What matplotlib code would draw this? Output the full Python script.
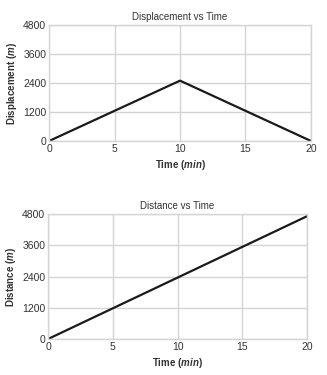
import matplotlib
matplotlib.use("Agg")
import matplotlib.pyplot as plt

# Time in minutes
disp_time = [0, 10, 20]
displacement = [0, 2500, 0]
dist_time = [0, 20]
distance = [0, 4720]

xticks = [0, 5, 10, 15, 20]
yticks = [0, 1200, 2400, 3600, 4800]

plt.rcParams['font.family'] = ['Liberation Sans', 'DejaVu Sans']
plt.rcParams['font.size'] = 7
# bold italic units inside the axis labels
plt.rcParams['mathtext.fontset'] = 'custom'
plt.rcParams['mathtext.it'] = 'Liberation Sans:italic:bold'
plt.rcParams['mathtext.rm'] = 'Liberation Sans:bold'
grid_col = '#d4d4d4'
text_col = '#333333'

fig = plt.figure(figsize=(3.27, 3.75), dpi=100)
ax1 = fig.add_axes([0.150, 0.624, 0.801, 0.309])
ax2 = fig.add_axes([0.147, 0.096, 0.792, 0.333])

def style(ax, title, ylabel):
  ax.set_xlim(0, 20)
  ax.set_ylim(0, 4800)
  ax.set_xticks(xticks)
  ax.set_yticks(yticks)
  ax.grid(True, color=grid_col, linewidth=1)
  ax.set_axisbelow(True)
  for s in ax.spines.values():
    s.set_color(grid_col)
    s.set_linewidth(1)
  ax.tick_params(length=0, colors=text_col, labelsize=7.5, pad=2)
  ax.set_title(title, fontsize=7, color=text_col, pad=4)
  ax.set_ylabel(ylabel, fontsize=7, fontweight='bold', color=text_col, labelpad=3)
  ax.set_xlabel(r"Time ($\mathit{min}$)", fontsize=7, fontweight='bold', color=text_col, labelpad=3)

ax1.plot(disp_time, displacement, color='#1a1a1a', linewidth=1.6, solid_capstyle='round')
style(ax1, "Displacement vs Time", r"Displacement ($\mathit{m}$)")

ax2.plot(dist_time, distance, color='#1a1a1a', linewidth=1.6, solid_capstyle='round')
style(ax2, "Distance vs Time", r"Distance ($\mathit{m}$)")

fig.savefig('out.png', dpi=100)
